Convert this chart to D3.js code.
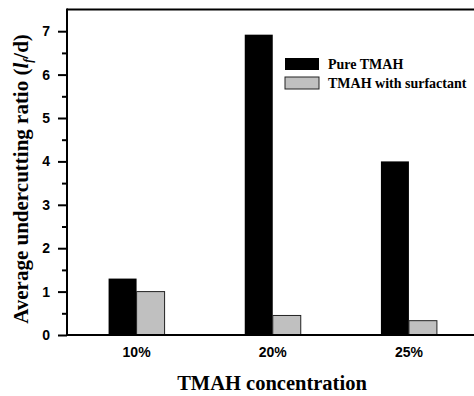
<!DOCTYPE html>
<html><head><meta charset="utf-8">
<script src="https://cdn.jsdelivr.net/npm/d3@7"></script>
<style>body{margin:0;background:#fff}</style>
</head><body>
<svg id="c" width="474" height="396"></svg>
<script>
const categories = ["10%", "20%", "25%"];
const seriesNames = ["Pure TMAH", "TMAH with surfactant"];
const pureTMAH = [1.30, 6.92, 4.00];
const withSurfactant = [1.00, 0.45, 0.33];
const yTicks = [0, 1, 2, 3, 4, 5, 6, 7];
const yMinorTicks = [0.5, 1.5, 2.5, 3.5, 4.5, 5.5, 6.5];
const colors = ["#000000", "#c0c0c0"];

const svg = d3.select("#c");
const L = 67, R = 477, T = 9.5, B = 335;
const x = d3.scaleBand().domain(categories).range([L + 1.5, R]);
const y = d3.scaleLinear().domain([0, 7.5]).range([B, T]);
const barW = 28;
const sub = d3.scaleBand().domain(seriesNames).range([-barW, barW]);

const series = [pureTMAH, withSurfactant];
series.forEach((vals, si) => {
  svg.append("g").selectAll("rect").data(vals).join("rect")
    .attr("x", (d, i) => x(categories[i]) + x.bandwidth() / 2 + sub(seriesNames[si]))
    .attr("y", d => y(d))
    .attr("width", sub.bandwidth())
    .attr("height", d => B - y(d))
    .attr("fill", colors[si])
    .attr("stroke", si === 1 ? "#222" : "none")
    .attr("stroke-width", 1);
});

// frame: left, top, bottom
svg.append("line").attr("x1", L).attr("x2", L).attr("y1", T - 1).attr("y2", B + 1)
  .attr("stroke", "#000").attr("stroke-width", 2);
svg.append("line").attr("x1", L).attr("x2", 474).attr("y1", T).attr("y2", T)
  .attr("stroke", "#000").attr("stroke-width", 2);
svg.append("line").attr("x1", L).attr("x2", 474).attr("y1", B).attr("y2", B)
  .attr("stroke", "#000").attr("stroke-width", 2);

// y axis
const yAxis = d3.axisLeft(y).tickValues(yTicks).tickSize(9).tickPadding(8).tickFormat(d3.format("d"));
const gy = svg.append("g").attr("transform", `translate(${L},0)`).call(yAxis);
gy.select(".domain").remove();
gy.selectAll(".tick line").attr("stroke-width", 2);
gy.selectAll("text").attr("font-family", "Liberation Sans, Arial, sans-serif")
  .attr("font-weight", "bold").attr("font-size", 14).attr("fill", "#000");
const gyMinor = svg.append("g").attr("transform", `translate(${L},0)`)
  .call(d3.axisLeft(y).tickValues(yMinorTicks).tickSize(5).tickFormat(""));
gyMinor.select(".domain").remove();
gyMinor.selectAll(".tick line").attr("stroke-width", 2);

// x axis labels
const gx = svg.append("g").attr("transform", `translate(0,${B})`)
  .call(d3.axisBottom(x).tickSize(0).tickPadding(12));
gx.select(".domain").remove();
gx.selectAll("text").attr("font-family", "Liberation Sans, Arial, sans-serif")
  .attr("font-weight", "bold").attr("font-size", 14).attr("fill", "#000");

// axis titles
svg.append("text").attr("x", 272).attr("y", 390).attr("text-anchor", "middle")
  .attr("font-family", "Liberation Serif, Times New Roman, serif").attr("font-weight", "bold")
  .attr("font-size", 20.5).text("TMAH concentration");

const yt = svg.append("text").attr("transform", "translate(28,179) rotate(-90)")
  .attr("text-anchor", "middle")
  .attr("font-family", "Liberation Serif, Times New Roman, serif").attr("font-weight", "bold")
  .attr("font-size", 21);
yt.append("tspan").text("Average undercutting ratio (");
yt.append("tspan").attr("font-style", "italic").text("l");
yt.append("tspan").attr("font-size", 12).attr("dy", 4).attr("font-style", "italic").text("f");
yt.append("tspan").attr("dy", -4).text("/d)");

// legend
const leg = svg.append("g");
seriesNames.forEach((name, i) => {
  const yy = 58 + i * 19;
  leg.append("rect").attr("x", 285).attr("y", yy).attr("width", 34).attr("height", 12)
    .attr("fill", colors[i]).attr("stroke", i === 1 ? "#222" : "none").attr("stroke-width", 1);
  leg.append("text").attr("x", 328).attr("y", yy + 11)
    .attr("font-family", "Liberation Serif, Times New Roman, serif").attr("font-weight", "bold")
    .attr("font-size", 14).text(name);
});
</script>
</body></html>
